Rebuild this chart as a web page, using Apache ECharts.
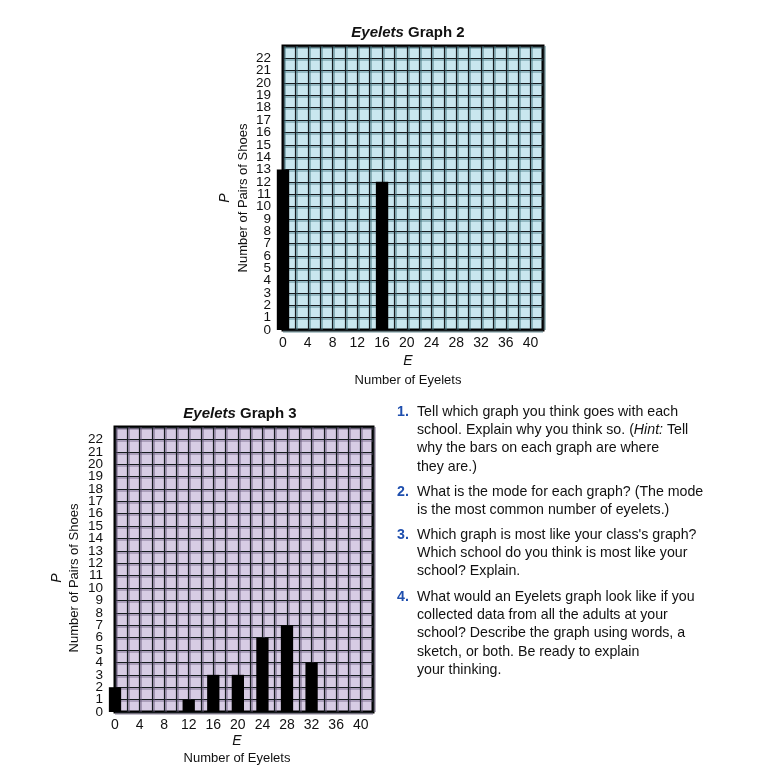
<!DOCTYPE html>
<html>
<head>
<meta charset="utf-8">
<script src="https://cdn.jsdelivr.net/npm/echarts@6/dist/echarts.min.js"></script>
<style>
html,body{margin:0;padding:0;background:#fff;}
#chart{width:762px;height:779px;}
</style>
</head>
<body>
<div id="chart"></div>
<script>
// ---- data ----
const graph2Eyelets = [0, 16];
const graph2Pairs = [13, 12];
const graph3Eyelets = [0, 12, 16, 20, 24, 28, 32];
const graph3Pairs = [2, 1, 3, 3, 6, 7, 4];
const xTickLabels = [0, 4, 8, 12, 16, 20, 24, 28, 32, 36, 40];
const yTickLabels = ['0', '1', '2', '3', '4', '5', '6', '7', '8', '9', '10', '11', '12', '13', '14', '15', '16', '17', '18', '19', '20', '21', '22'];
const yRows = ['0', '1', '2', '3', '4', '5', '6', '7', '8', '9', '10', '11', '12', '13', '14', '15', '16', '17', '18', '19', '20', '21', '22', '23'];
const titles = ['Graph 2', 'Graph 3'];
const questions = [
  ['Tell which graph you think goes with each', 'school. Explain why you think so. ({i|Hint:} Tell', 'why the bars on each graph are where', 'they are.)'],
  ['What is the mode for each graph? (The mode', 'is the most common number of eyelets.)'],
  ["Which graph is most like your class's graph?", 'Which school do you think is most like your', 'school? Explain.'],
  ['What would an Eyelets graph look like if you', 'collected data from all the adults at your', 'school? Describe the graph using words, a', 'sketch, or both. Be ready to explain', 'your thinking.']
];

const FONT = "'Liberation Sans', Arial, Helvetica, sans-serif";
const chart = echarts.init(document.getElementById('chart'), null, {renderer: 'canvas'});

function xAxisCfg(gi, shadow) {
  return {
    type: 'value', gridIndex: gi, min: 0, max: 42, interval: 2,
    axisLine: {show: false}, axisTick: {show: false},
    axisLabel: {
      margin: 6, fontSize: 14, color: '#111', fontFamily: FONT, showMinLabel: true, hideOverlap: false,
      formatter: v => xTickLabels.indexOf(v) >= 0 ? String(v) : ''
    },
    splitLine: {show: true, lineStyle: {color: '#151b1e', width: 1.2, shadowColor: shadow, shadowOffsetX: 1.5, shadowOffsetY: 0}}
  };
}
function yAxisCfg(gi, shadow) {
  return {
    type: 'category', gridIndex: gi, data: yRows, boundaryGap: false,
    axisLine: {show: false}, axisTick: {show: false},
    axisLabel: {
      interval: 0, margin: 12, fontSize: 13.5, fontFamily: FONT, color: '#111', hideOverlap: false,
      formatter: v => yTickLabels.indexOf(v) >= 0 ? v : ''
    },
    splitLine: {show: true, interval: 0, lineStyle: {color: '#151b1e', width: 1.2, shadowColor: shadow, shadowOffsetX: 0, shadowOffsetY: 1.5}}
  };
}
function barRender(params, api) {
  const x = api.value(0), y = api.value(1);
  const p0 = api.coord([x - 1, y]);
  const p1 = api.coord([x + 1, 0]);
  return {
    type: 'rect',
    shape: {x: p0[0], y: p0[1], width: p1[0] - p0[0], height: p1[1] - p0[1]},
    style: {fill: '#000'}
  };
}

const graphic = [];
function addText(x, y, text, opts) {
  graphic.push(Object.assign({
    type: 'text', x: x, y: y, z: 100,
    style: Object.assign({text: text, font: '13px ' + FONT, fill: '#111', align: 'center', verticalAlign: 'middle'}, opts && opts.style || {})
  }, opts && opts.el || {}));
}
// titles
function addTitle(cx, cy, label) {
  addText(cx, cy, '{i|Eyelets} {b|' + label + '}', {style: {
    font: 'bold 15px ' + FONT,
    rich: {i: {font: 'italic bold 15px ' + FONT, fill: '#111'}, b: {font: 'bold 15px ' + FONT, fill: '#111'}}
  }});
}
addTitle(408, 33, titles[0]);
addTitle(240, 414, titles[1]);
// axis names
function addAxisNames(yx, py, px, ex, ey, ny) {
  addText(yx, py, 'Number of Pairs of Shoes', {el: {rotation: Math.PI / 2}});
  addText(px, py, 'P', {el: {rotation: Math.PI / 2}, style: {font: 'italic 14px ' + FONT}});
  addText(ex, ey, 'E', {style: {font: 'italic 14px ' + FONT}});
  addText(ex, ny, 'Number of Eyelets');
}
addAxisNames(243, 198, 225, 408, 361, 380);
addAxisNames(74, 578, 57, 237, 741, 758);

// questions
const paraTops = [412, 492, 535, 597];
questions.forEach((lines, i) => {
  addText(397, paraTops[i], (i + 1) + '.', {style: {align: 'left', font: 'bold 14.2px ' + FONT, fill: '#1f4fae'}});
  lines.forEach((ln, j) => {
    addText(417, paraTops[i] + j * 18.2, ln, {style: {align: 'left', font: '14.2px ' + FONT, rich: {i: {font: 'italic 14.2px ' + FONT, fill: '#111'}}}});
  });
});

chart.setOption({
  animation: false,
  grid: [
    {left: 283, top: 46, width: 260, height: 284, show: true, backgroundColor: '#c9e7ef', borderColor: '#000', borderWidth: 3},
    {left: 115, top: 427, width: 258, height: 285, show: true, backgroundColor: '#d7cce4', borderColor: '#000', borderWidth: 3}
  ],
  xAxis: [xAxisCfg(0, 'rgba(60,110,120,0.75)'), xAxisCfg(1, 'rgba(100,85,120,0.75)')],
  yAxis: [yAxisCfg(0, 'rgba(60,110,120,0.75)'), yAxisCfg(1, 'rgba(100,85,120,0.75)')],
  series: [
    {type: 'custom', xAxisIndex: 0, yAxisIndex: 0, renderItem: barRender, z: 10,
     data: graph2Eyelets.map((e, i) => [e, graph2Pairs[i]])},
    {type: 'custom', xAxisIndex: 1, yAxisIndex: 1, renderItem: barRender, z: 10,
     data: graph3Eyelets.map((e, i) => [e, graph3Pairs[i]])}
  ],
  graphic: graphic
});
</script>
</body>
</html>
